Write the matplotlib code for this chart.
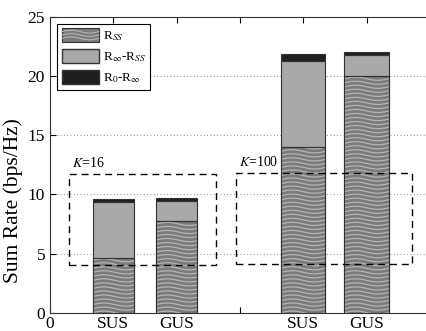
import numpy as np
import matplotlib
matplotlib.use("Agg")
import matplotlib.pyplot as plt
from matplotlib.patches import Rectangle
from matplotlib.legend_handler import HandlerPatch
from matplotlib.lines import Line2D

plt.rcParams['font.family'] = ['Liberation Serif', 'DejaVu Serif']
plt.rcParams['mathtext.fontset'] = 'stix'

# data
positions = [1, 2, 4, 5]
bar_widths = [0.65, 0.65, 0.7, 0.7]
r_ss = [4.65, 7.8, 14.0, 20.0]       # R_SS
r_inf = [9.4, 9.45, 21.25, 21.8]     # R_inf (top of middle part)
r_0 = [9.62, 9.68, 21.85, 22.05]     # R_0 (top of bar)
tick_pos = [0, 1, 2, 3, 4, 5]
tick_labels = ['0', 'SUS', 'GUS', '', 'SUS', 'GUS']
groups = ['$K$=16', '$K$=100']
boxes = [(0.30, 2.62, 4.07, 11.7), (2.94, 5.71, 4.16, 11.78)]

wave_base = '#7b7b7b'
wave_line = '#b5b5b5'
mid_col = '#a9a9a9'
top_col = '#1f1f1f'
edge = '#333333'


def waves(ax, x0, w, y0, h, clip):
    # wavy pattern inside a rectangle
    xs = np.linspace(x0, x0 + w, 60)
    y = y0 - 0.3
    while y < y0 + h + 0.3:
        ys = y + 0.13 * np.sin(2 * np.pi * (xs - x0) / 0.7)
        ln, = ax.plot(xs, ys, color=wave_line, lw=0.9, zorder=3)
        ln.set_clip_path(clip)
        y += 0.34


fig = plt.figure(figsize=(4.27, 3.31), dpi=100)
ax = fig.add_axes([0.117, 0.054, 0.89, 0.896])

for i in range(len(positions)):
    x0 = positions[i] - bar_widths[i] / 2
    w = bar_widths[i]
    b1 = ax.bar(positions[i], r_ss[i], w, color=wave_base, edgecolor=edge, lw=0.8, zorder=2)
    waves(ax, x0, w, 0, r_ss[i], b1[0])
    # redraw edge on top of waves
    ax.add_patch(Rectangle((x0, 0), w, r_ss[i], fill=False, edgecolor=edge, lw=0.8, zorder=4))
    ax.bar(positions[i], r_inf[i] - r_ss[i], w, bottom=r_ss[i], color=mid_col, edgecolor=edge, lw=0.8, zorder=2)
    ax.bar(positions[i], r_0[i] - r_inf[i], w, bottom=r_inf[i], color=top_col, edgecolor=edge, lw=0.8, zorder=2)

# dashed group boxes
for (xl, xr, yb, yt), g in zip(boxes, groups):
    ax.plot([xl, xr, xr, xl, xl], [yb, yb, yt, yt, yb], color='black', lw=1.0,
            ls=(0, (5, 3.5)), zorder=5)
    ax.text(xl + 0.05, yt + 0.4, g, fontsize=10, ha='left', va='bottom')

ax.set_xlim(0, 6)
ax.set_ylim(0, 25)
ax.set_xticks(tick_pos)
ax.set_xticklabels(tick_labels, fontsize=12.5)
ax.set_yticks([0, 5, 10, 15, 20, 25])
ax.tick_params(labelsize=12.5, direction='in', top=True, right=False, length=4)
ax.tick_params(axis='x', pad=2)
ax.spines['right'].set_visible(False)
ax.set_ylabel('Sum Rate (bps/Hz)', fontsize=15.5)
ax.yaxis.set_label_coords(-0.072, 0.38)
ax.yaxis.grid(True, ls=(0, (1, 3)), color='#666666', lw=0.6)
ax.set_axisbelow(True)
for s in ax.spines.values():
    s.set_color('#333333')


class WaveHandler(HandlerPatch):
    def create_artists(self, legend, orig_handle, xdescent, ydescent, width, height, fontsize, trans):
        r = Rectangle((-xdescent, -ydescent), width, height, facecolor=wave_base,
                      edgecolor=edge, lw=0.8, transform=trans)
        arts = [r]
        xs = np.linspace(-xdescent, -xdescent + width, 30)
        for k in range(1, 4):
            yy = -ydescent + height * k / 4 + 1.0 * np.sin(2 * np.pi * xs / width)
            arts.append(Line2D(xs, yy, color=wave_line, lw=0.8, transform=trans))
        return arts


h1 = Rectangle((0, 0), 1, 1, facecolor=wave_base, edgecolor=edge)
h2 = Rectangle((0, 0), 1, 1, facecolor=mid_col, edgecolor=edge)
h3 = Rectangle((0, 0), 1, 1, facecolor=top_col, edgecolor=edge)
leg = ax.legend([h1, h2, h3],
                [r'R$_{SS}$', r'R$_\infty$-R$_{SS}$', r'R$_0$-R$_\infty$'],
                handler_map={h1: WaveHandler()},
                loc='upper left', bbox_to_anchor=(0.012, 0.985), fontsize=9.5,
                fancybox=False, framealpha=1, edgecolor='black',
                handlelength=2.8, handleheight=1.2, borderpad=0.35,
                labelspacing=0.45, handletextpad=0.3, borderaxespad=0.2)
leg.get_frame().set_linewidth(0.8)

fig.savefig('out.png', dpi=100)
